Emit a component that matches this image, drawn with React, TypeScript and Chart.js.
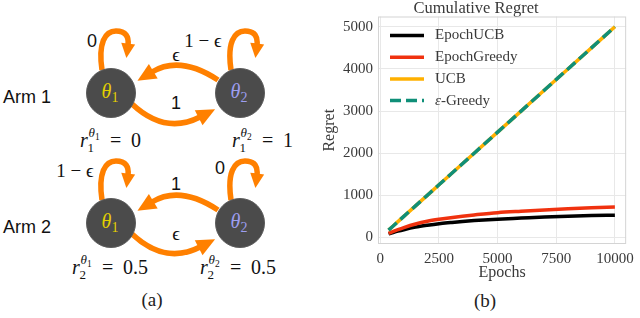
import React, { useEffect, useRef } from "react";
import { Chart, registerables } from "chart.js";

Chart.register(...registerables);

// ---------- data ----------
const epochs = [350, 500, 750, 1000, 1500, 2000, 2500, 3000, 3500, 4000, 5000, 6000, 7000, 8000, 9000, 10000];
const epochUCB = [85, 110, 150, 185, 245, 290, 328, 355, 380, 400, 435, 460, 485, 505, 520, 530];
const epochGreedy = [95, 130, 185, 235, 320, 385, 432, 470, 505, 535, 588, 622, 652, 680, 705, 725];
const ucb = [175, 250, 375, 500, 750, 1000, 1250, 1500, 1750, 2000, 2500, 3000, 3500, 4000, 4500, 5000];
const epsGreedy = [175, 250, 375, 500, 750, 1000, 1250, 1500, 1750, 2000, 2500, 3000, 3500, 4000, 4500, 5000];
const seriesLabels = ["EpochUCB", "EpochGreedy", "UCB", "ε-Greedy"];
const xTicks = [0, 2500, 5000, 7500, 10000];
const yTicks = [0, 1000, 2000, 3000, 4000, 5000];

const SERIF = "'Liberation Serif', 'DejaVu Serif', serif";
const SANS = "'Liberation Sans', 'DejaVu Sans', sans-serif";
const TXT = "#3a3a3a";
const ORANGE = "#ff8000";

const framePlugin = {
  id: "frame",
  beforeDatasetsDraw(chart: any) {
    const { ctx, chartArea: a } = chart;
    ctx.save();
    ctx.strokeStyle = "#d4d4d4";
    ctx.lineWidth = 1;
    ctx.strokeRect(a.left + 0.5, a.top + 0.5, a.right - a.left - 1, a.bottom - a.top - 1);
    ctx.restore();
  },
};

const legendPlugin = {
  id: "inlineLegend",
  afterDatasetsDraw(chart: any) {
    const { ctx, chartArea: a } = chart;
    ctx.save();
    chart.data.datasets.forEach((ds: any, i: number) => {
      const y = a.top + 19 + i * 21.7;
      const x0 = a.left + 12;
      ctx.beginPath();
      ctx.setLineDash(ds.borderDash || []);
      ctx.lineCap = "butt";
      ctx.strokeStyle = ds.borderColor;
      ctx.lineWidth = ds.borderWidth;
      ctx.moveTo(x0, y);
      ctx.lineTo(x0 + 34, y);
      ctx.stroke();
      ctx.setLineDash([]);
      ctx.fillStyle = TXT;
      ctx.textBaseline = "middle";
      let tx = x0 + 45;
      let label: string = ds.label;
      if (label.startsWith("ε")) {
        ctx.font = `italic 15px ${SERIF}`;
        ctx.fillText("ε", tx, y);
        tx += ctx.measureText("ε").width;
        label = label.slice(1);
      }
      ctx.font = `15px ${SERIF}`;
      ctx.fillText(label, tx, y);
    });
    ctx.restore();
  },
};

function RegretChart() {
  const ref = useRef<HTMLCanvasElement | null>(null);
  useEffect(() => {
    if (!ref.current) return;
    const font = { family: SERIF, size: 15 };
    const chart = new Chart(ref.current, {
      type: "line",
      data: {
        labels: epochs,
        datasets: [
          { label: seriesLabels[0], data: epochs.map((x, i) => ({ x, y: epochUCB[i] })), borderColor: "#000000", borderWidth: 3.5, order: 3 },
          { label: seriesLabels[1], data: epochs.map((x, i) => ({ x, y: epochGreedy[i] })), borderColor: "#f0320f", borderWidth: 3.5, order: 2 },
          { label: seriesLabels[2], data: epochs.map((x, i) => ({ x, y: ucb[i] })), borderColor: "#ffb000", borderWidth: 3.5, order: 1 },
          { label: seriesLabels[3], data: epochs.map((x, i) => ({ x, y: epsGreedy[i] })), borderColor: "#0f8f78", borderWidth: 3.5, borderDash: [11, 5], order: 0 },
        ] as any,
      },
      options: {
        animation: false,
        responsive: false,
        maintainAspectRatio: false,
        devicePixelRatio: 1,
        layout: { padding: { left: 0, right: 8, top: 0, bottom: 0 } },
        elements: { point: { radius: 0 }, line: { cubicInterpolationMode: "monotone", borderCapStyle: "butt" } },
        plugins: {
          legend: { display: false },
          tooltip: { enabled: false },
          title: {
            display: true,
            text: "Cumulative Regret",
            color: TXT,
            font: { family: SERIF, size: 16.5, weight: "normal", lineHeight: 1 },
            padding: { top: 0, bottom: 0 },
          },
        },
        scales: {
          x: {
            type: "linear",
            min: -100,
            max: 10480,
            afterBuildTicks: (s: any) => { s.ticks = xTicks.map((v) => ({ value: v })); },
            afterFit: (s: any) => { s.height = 46; },
            grid: { color: "#e8e8e8", drawTicks: false },
            border: { display: false },
            ticks: { padding: 6, color: TXT, font, maxRotation: 0, callback: (v: any) => String(v) },
            title: { display: true, text: "Epochs", color: TXT, font: { family: SERIF, size: 16 }, padding: { top: 8, bottom: 8 } },
          },
          y: {
            type: "linear",
            min: -155,
            max: 5245,
            afterBuildTicks: (s: any) => { s.ticks = yTicks.map((v) => ({ value: v })); },
            afterFit: (s: any) => { s.width = 58; },
            grid: { color: "#e8e8e8", drawTicks: false },
            border: { display: false },
            ticks: { padding: 5, color: TXT, font, callback: (v: any) => String(v) },
            title: { display: true, text: "Regret", color: TXT, font: { family: SERIF, size: 16 }, padding: { top: 0, bottom: 0 } },
          },
        },
      } as any,
      plugins: [framePlugin, legendPlugin],
    });
    return () => chart.destroy();
  }, []);
  return (
    <canvas
      ref={ref}
      width={320}
      height={290}
      style={{ position: "absolute", left: 320, top: 0, width: 320, height: 290 }}
    />
  );
}

// ---------- diagram (a) ----------
function arrowPts(ex: number, ey: number, tx: number, ty: number, len: number, w: number) {
  const n = Math.hypot(tx, ty);
  const ux = tx / n, uy = ty / n;
  const px = -uy, py = ux;
  const bx = ex - ux * 1.5, by = ey - uy * 1.5;
  const tipX = ex + ux * len, tipY = ey + uy * len;
  return `${tipX},${tipY} ${bx + (px * w) / 2},${by + (py * w) / 2} ${bx - (px * w) / 2},${by - (py * w) / 2}`;
}

function Loop({ cx, cy }: { cx: number; cy: number }) {
  const d = `M ${cx - 9} ${cy - 23} C ${cx - 13} ${cy - 50} ${cx - 6} ${cy - 62} ${cx + 5} ${cy - 62} C ${cx + 15} ${cy - 62} ${cx + 18} ${cy - 56} ${cx + 17} ${cy - 48}`;
  return (
    <g>
      <path d={d} fill="none" stroke={ORANGE} strokeWidth={5.5} />
      <polygon points={arrowPts(cx + 17, cy - 48, -1, 8, 13, 14)} fill={ORANGE} />
    </g>
  );
}

function Arcs({ c1, c2, cy }: { c1: number; c2: number; cy: number }) {
  // upper: from right node to left node
  const ux0 = c2 - 22, uy0 = cy - 13, ucx = 180, ucy = cy - 38, ux1 = 152, uy1 = cy - 21;
  // lower: from left node to right node
  const lx0 = c1 + 21, ly0 = cy + 11, lcx = 165, lcy = cy + 42, lx1 = 200, ly1 = cy + 24;
  return (
    <g>
      <path d={`M ${ux0} ${uy0} Q ${ucx} ${ucy} ${ux1} ${uy1}`} fill="none" stroke={ORANGE} strokeWidth={5.5} />
      <polygon points={arrowPts(ux1, uy1, ux1 - ucx, uy1 - ucy, 17, 17)} fill={ORANGE} />
      <path d={`M ${lx0} ${ly0} Q ${lcx} ${lcy} ${lx1} ${ly1}`} fill="none" stroke={ORANGE} strokeWidth={5.5} />
      <polygon points={arrowPts(lx1, ly1, lx1 - lcx, ly1 - lcy, 17, 17)} fill={ORANGE} />
    </g>
  );
}

function Node({ cx, cy, idx, color }: { cx: number; cy: number; idx: string; color: string }) {
  return (
    <g>
      <circle cx={cx} cy={cy} r={24.5} fill="#4b4b4b" stroke="#5c5c5c" strokeWidth={1} />
      <text x={cx - 1} y={cy + 5} textAnchor="middle" fill={color} fontFamily={SERIF} fontSize={20} fontStyle="italic">
        θ<tspan fontStyle="normal" fontSize={14} dy={4}>{idx}</tspan>
      </text>
    </g>
  );
}

function Reward({ x, y, arm, st, val }: { x: number; y: number; arm: string; st: string; val: string }) {
  return (
    <g fontFamily={SERIF} fill="#111">
      <text x={x} y={y} fontSize={20} fontStyle="italic">r</text>
      <text x={x + 7.5} y={y + 5} fontSize={13}>{arm}</text>
      <text x={x + 8.5} y={y - 10} fontSize={13} fontStyle="italic">θ</text>
      <text x={x + 15} y={y - 7} fontSize={9.5}>{st}</text>
      <text x={x + 30} y={y} fontSize={20}>=</text>
      <text x={x + 51} y={y} fontSize={20}>{val}</text>
    </g>
  );
}

function Lbl({ x, y, t, sans, size }: { x: number; y: number; t: string; sans?: boolean; size?: number }) {
  return (
    <text x={x} y={y} textAnchor="middle" dominantBaseline="central" fontFamily={sans ? SANS : SERIF} fontSize={size || 19} fill="#111">
      {t}
    </text>
  );
}

function Diagram() {
  const c1 = 111, c2 = 240;
  const rows = [93, 223];
  return (
    <svg width={320} height={318} style={{ position: "absolute", left: 0, top: 0 }}>
      <text x={3} y={103} fontFamily={SANS} fontSize={18} fill="#111">Arm 1</text>
      <text x={3} y={233} fontFamily={SANS} fontSize={18} fill="#111">Arm 2</text>
      {rows.map((cy) => (
        <g key={cy}>
          <Loop cx={c1} cy={cy} />
          <Loop cx={c2} cy={cy} />
          <Arcs c1={c1} c2={c2} cy={cy} />
          <Node cx={c1} cy={cy} idx="1" color="#e3d000" />
          <Node cx={c2} cy={cy} idx="2" color="#9d9ef0" />
        </g>
      ))}
      {/* Arm 1 labels */}
      <Lbl x={92} y={41} t="0" sans size={18} />
      <Lbl x={203} y={40} t="1 − ϵ" />
      <Lbl x={176} y={54} t="ϵ" />
      <Lbl x={176} y={103} t="1" sans size={18} />
      {/* Arm 2 labels */}
      <Lbl x={75} y={170} t="1 − ϵ" />
      <Lbl x={220} y={168} t="0" sans size={18} />
      <Lbl x={176} y={184} t="1" sans size={18} />
      <Lbl x={176} y={233} t="ϵ" />
      <Reward x={80} y={147} arm="1" st="1" val="0" />
      <Reward x={232} y={147} arm="1" st="2" val="1" />
      <Reward x={72} y={274} arm="2" st="1" val="0.5" />
      <Reward x={200} y={274} arm="2" st="2" val="0.5" />
      <text x={152} y={306} textAnchor="middle" fontFamily={SERIF} fontSize={19} fill="#222">(a)</text>
    </svg>
  );
}

export default function App() {
  return (
    <div style={{ position: "fixed", left: 0, top: 0, width: 640, height: 318, background: "#fff", overflow: "hidden" }}>
      <Diagram />
      <RegretChart />
      <div style={{ position: "absolute", left: 460, width: 50, top: 290, textAlign: "center", fontFamily: SERIF, fontSize: 19, color: "#222", lineHeight: "22px" }}>
        (b)
      </div>
    </div>
  );
}
